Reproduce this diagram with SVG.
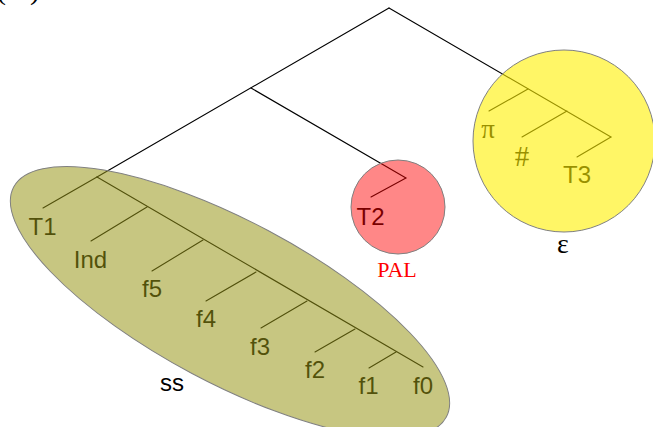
<svg xmlns="http://www.w3.org/2000/svg" width="653" height="427" viewBox="0 0 653 427">
  <style>
    .edge { stroke: #000; stroke-width: 1.1; fill: none; stroke-linecap: round; }
    .leaf { font-family: "Liberation Sans", "DejaVu Sans", sans-serif; font-size: 24px; fill: #000; text-anchor: middle; }
    .math { font-family: "Liberation Serif", "DejaVu Serif", serif; font-size: 24px; fill: #000; text-anchor: middle; }
    .region { stroke: #808080; stroke-width: 1; }
  </style>

  <!-- panel tag, mostly above the top edge -->
  <text class="math" style="font-size:30px;text-anchor:start" x="-4 16 30" y="-1">(c)</text>

  <!-- tree branches -->
  <g id="connectors">
    <!-- root and its two children -->
    <path class="edge" d="M389,8 L97,177"/>
    <path class="edge" d="M389,8 L611,137"/>
    <path class="edge" d="M251,88 L406,178 L371,197"/>
    <!-- left spine -->
    <path class="edge" d="M97,177 L43,208"/>
    <path class="edge" d="M97,177 L423,367"/>
    <path class="edge" d="M147,207 L91,241"/>
    <path class="edge" d="M203,240 L152,271"/>
    <path class="edge" d="M256,272 L206,301"/>
    <path class="edge" d="M307,301 L261,328"/>
    <path class="edge" d="M355,329 L315,352"/>
    <path class="edge" d="M396,352 L369,368"/>
    <!-- right subtree -->
    <path class="edge" d="M528,89 L489,111"/>
    <path class="edge" d="M567,111 L522,137"/>
    <path class="edge" d="M611,137 L577,157"/>
  </g>

  <!-- leaves -->
  <g id="leaf-T1"><text class="leaf" x="42.5" y="235">T1</text></g>
  <g id="leaf-Ind"><text class="leaf" x="90.5" y="268">Ind</text></g>
  <g id="leaf-f5"><text class="leaf" x="152" y="297">f5</text></g>
  <g id="leaf-f4"><text class="leaf" x="206" y="327">f4</text></g>
  <g id="leaf-f3"><text class="leaf" x="260" y="355">f3</text></g>
  <g id="leaf-f2"><text class="leaf" x="315" y="378">f2</text></g>
  <g id="leaf-f1"><text class="leaf" x="368.5" y="394">f1</text></g>
  <g id="leaf-f0"><text class="leaf" x="423" y="394">f0</text></g>
  <g id="leaf-T2"><text class="leaf" x="370.5" y="225">T2</text></g>
  <g id="leaf-pi"><text class="math" style="font-size:27px" x="488" y="138">π</text></g>
  <g id="leaf-hash"><text class="math" style="font-size:29px" x="522" y="166">#</text></g>
  <g id="leaf-T3"><text class="leaf" x="577" y="183">T3</text></g>

  <!-- translucent groupings laid over the tree -->
  <g id="group-ss">
    <ellipse class="region" cx="230" cy="302" rx="245" ry="81" transform="rotate(28 230 302)"
             fill="rgb(152,149,22)" fill-opacity="0.54"/>
    <text class="leaf" x="172" y="391">ss</text>
  </g>
  <g id="group-PAL">
    <circle class="region" cx="398" cy="207" r="47" fill="#ff0000" fill-opacity="0.47"/>
    <text class="math" style="font-size:22px;fill:#ff0000" x="397" y="277">PAL</text>
  </g>
  <g id="group-eps">
    <circle class="region" cx="564" cy="141" r="91" fill="rgb(255,240,0)" fill-opacity="0.6"/>
    <text class="math" style="font-size:28px" x="563" y="253">ε</text>
  </g>
</svg>
